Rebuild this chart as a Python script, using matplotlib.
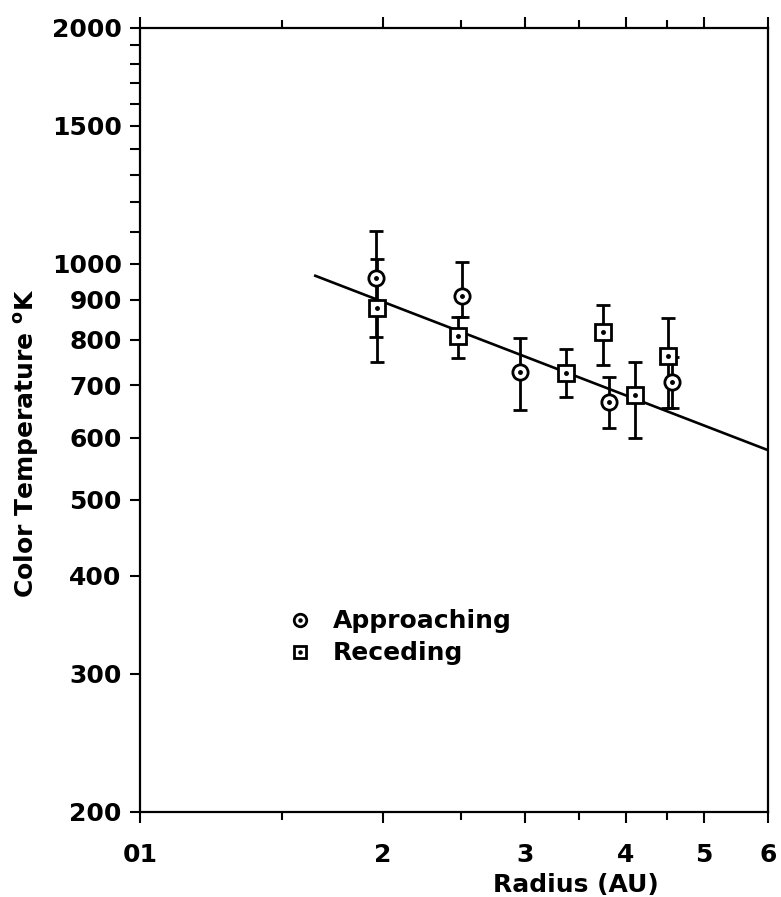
import matplotlib

matplotlib.use("Agg")
import matplotlib.pyplot as plt
from matplotlib.lines import Line2D
from matplotlib.ticker import FixedLocator, FixedFormatter, NullFormatter

# approaching (circles)
app_r = [1.96, 2.51, 2.96, 3.82, 4.56]
app_t = [960, 910, 728, 667, 707]
app_hi = [1102, 1006, 805, 718, 760]
app_lo = [807, 856, 652, 618, 655]

# receding (squares)
rec_r = [1.97, 2.48, 3.37, 3.75, 4.11, 4.51]
rec_t = [879, 810, 726, 819, 681, 763]
rec_hi = [1015, 856, 779, 887, 750, 853]
rec_lo = [750, 759, 676, 743, 600, 655]

# fitted line endpoints
fit_r = [1.65, 6.0]
fit_t = [966, 579]

x_ticks = [1, 2, 3, 4, 5, 6]
x_labels = ["01", "2", "3", "4", "5", "6"]
x_minor = [1.5, 2.5, 3.5, 4.5]
y_ticks = [200, 300, 400, 500, 600, 700, 800, 900, 1000, 1500, 2000]
y_labels = ["200", "300", "400", "500", "600", "700", "800", "900", "1000", "1500", "2000"]
y_minor = [1100, 1200, 1300, 1400, 1600, 1700, 1800, 1900]

plt.rcParams["font.family"] = ["DejaVu Sans"]
plt.rcParams["font.weight"] = "bold"

fig = plt.figure(figsize=(7.81, 8.97), dpi=100)
ax = fig.add_axes([0.179, 0.0948, 0.804, 0.874])

ax.plot(fit_r, fit_t, color="black", linewidth=1.9, zorder=2)


def draw_series(r, t, hi, lo, marker):
    yerr = [[v - l for v, l in zip(t, lo)], [h - v for v, h in zip(t, hi)]]
    ax.errorbar(r, t, yerr=yerr, fmt="none", ecolor="black", elinewidth=2.0,
                capsize=5, capthick=2.0, zorder=3)
    ax.plot(r, t, linestyle="none", marker=marker, markersize=11,
            markerfacecolor="white", markeredgecolor="black", markeredgewidth=2.0, zorder=4)
    ax.plot(r, t, linestyle="none", marker="o", markersize=2.5, color="black", zorder=5)


draw_series(app_r, app_t, app_hi, app_lo, "o")
draw_series(rec_r, rec_t, rec_hi, rec_lo, "s")

ax.set_xscale("log")
ax.set_yscale("log")
ax.set_xlim(1, 6)
ax.set_ylim(200, 2000)

ax.xaxis.set_major_locator(FixedLocator(x_ticks))
ax.xaxis.set_major_formatter(FixedFormatter(x_labels))
ax.xaxis.set_minor_locator(FixedLocator(x_minor))
ax.xaxis.set_minor_formatter(NullFormatter())
ax.yaxis.set_major_locator(FixedLocator(y_ticks))
ax.yaxis.set_major_formatter(FixedFormatter(y_labels))
ax.yaxis.set_minor_locator(FixedLocator(y_minor))
ax.yaxis.set_minor_formatter(NullFormatter())

ax.tick_params(axis="both", which="both", direction="out", width=1.5, labelsize=18)
ax.tick_params(axis="x", which="both", top=True, labeltop=False, pad=14)
ax.tick_params(axis="x", which="major", length=8)
ax.tick_params(axis="x", which="minor", length=6)
ax.tick_params(axis="y", which="both", right=False, length=7, pad=6)

for spine in ax.spines.values():
    spine.set_linewidth(1.6)

ax.set_xlabel("Radius (AU)", fontsize=18, fontweight="bold")
ax.xaxis.set_label_coords(0.694, -0.078)
ax.set_ylabel("Color Temperature $^{\\mathbf{o}}$K", fontsize=18, fontweight="bold")
ax.yaxis.set_label_coords(-0.158, 0.47)

handles = [
    (Line2D([], [], linestyle="none", marker="o", markersize=9, markerfacecolor="white",
            markeredgecolor="black", markeredgewidth=2.0),
     Line2D([], [], linestyle="none", marker="o", markersize=2.2, color="black")),
    (Line2D([], [], linestyle="none", marker="s", markersize=9, markerfacecolor="white",
            markeredgecolor="black", markeredgewidth=2.0),
     Line2D([], [], linestyle="none", marker="o", markersize=2.2, color="black")),
]
ax.legend(handles, ["Approaching", "Receding"], loc="upper left", bbox_to_anchor=(0.2, 0.287),
          frameon=False, fontsize=18, handlelength=1.0, handletextpad=0.8, labelspacing=0.32)

fig.savefig("out.png", dpi=100)
